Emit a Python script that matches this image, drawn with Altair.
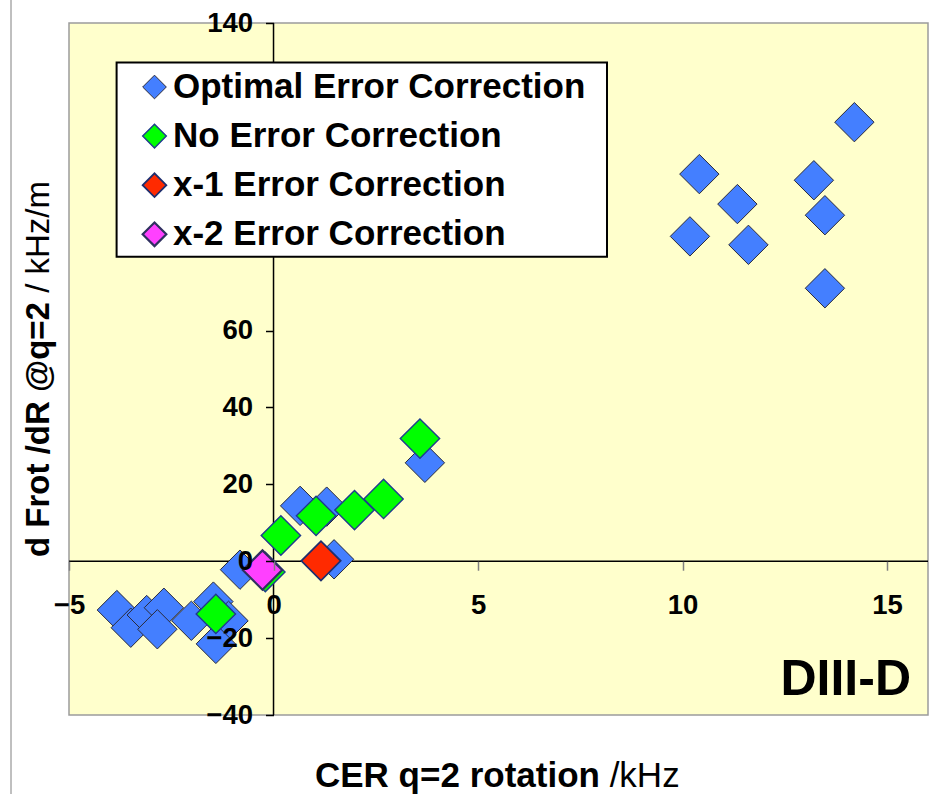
import altair as alt
import pandas as pd

# ---- data -------------------------------------------------------------
series_names = [
    "Optimal Error Correction",
    "No Error Correction",
    "x-1 Error Correction",
    "x-2 Error Correction",
]

# CER q=2 rotation (kHz) and d Frot/dR at q=2 (kHz/m)
optimal_x = [-3.83, -3.49, -3.10, -2.68, -2.84, -2.01, -1.47, -1.10, -1.41,
             -0.82, 0.65, 1.30, 1.48, 3.70,
             14.20, 10.41, 13.21, 11.34, 13.48, 10.18, 11.61, 13.48]
optimal_y = [-12.7, -17.3, -14.0, -12.1, -17.7, -15.5, -10.5, -15.5, -21.5,
             -2.2, 14.4, 14.2, 0.5, 25.6,
             114.2, 100.7, 99.1, 92.9, 90.0, 84.5, 82.3, 71.0]
no_corr_x = [-1.41, -0.20, 0.18, 1.04, 1.98, 2.69, 3.58]
no_corr_y = [-13.7, -2.8, 6.7, 11.8, 13.3, 16.2, 31.9]
x1_corr_x = [1.16]
x1_corr_y = [0.1]
x2_corr_x = [-0.27]
x2_corr_y = [-2.3]

x_ticks = [-5, 0, 5, 10, 15]
# ticks 80-120 sit under the legend box
y_ticks = [-40, -20, 0, 20, 40, 60, 140]

x_title_bold = "CER q=2 rotation"
x_title_unit = "/kHz"
y_title_bold = "d Frot /dR @q=2"
y_title_unit = "/ kHz/m"
machine_label = "DIII-D"

# ---- styling ----------------------------------------------------------
fill_colors = ["#447FFF", "#00FF00", "#FF2A00", "#FF40FF"]
stroke_colors = ["#2A2A3A", "#1E3C8C", "#1E2E6E", "#303060"]
stroke_widths = [1.0, 2.2, 2.0, 1.5]

FONT = "Liberation Sans"
W, H = 859, 692
XMIN, XMAX = -5, 16
YMIN, YMAX = -40, 140

# axes cross at zero: shift them into the plot area
x_axis_offset = -H * (0 - YMIN) / (YMAX - YMIN)
y_axis_offset = -W * (0 - XMIN) / (XMAX - XMIN)

rows = []
for name, xs, ys in zip(series_names,
                        [optimal_x, no_corr_x, x1_corr_x, x2_corr_x],
                        [optimal_y, no_corr_y, x1_corr_y, x2_corr_y]):
    for xv, yv in zip(xs, ys):
        rows.append({"series": name, "rot": xv, "dfdr": yv})
df = pd.DataFrame(rows)
df["idx"] = range(len(df))

x_scale = alt.Scale(domain=[XMIN, XMAX], nice=False, zero=False)
y_scale = alt.Scale(domain=[YMIN, YMAX], nice=False, zero=False)

# tick labels are drawn above the markers, axis lines below them
axis_common = dict(
    domain=False, grid=False, zindex=1,
    labelFont=FONT, labelFontSize=27.5, labelFontWeight="bold",
    labelColor="black", labelOverlap=False, labelFlush=False,
)

one = pd.DataFrame({"k": [0]})

# zero lines acting as the axis lines
x_zero_line = alt.Chart(one).mark_rule(color="black", strokeWidth=1.5).encode(
    x=alt.datum(XMIN, scale=x_scale), x2=alt.datum(XMAX), y=alt.datum(0)
)
y_zero_line = alt.Chart(one).mark_rule(color="black", strokeWidth=1.5).encode(
    x=alt.datum(0), y=alt.datum(YMIN, scale=y_scale), y2=alt.datum(YMAX)
)

points = alt.Chart(df).mark_point(
    shape="diamond", filled=True, size=1550, opacity=1
).encode(
    x=alt.X("rot:Q", title=None, scale=x_scale,
            axis=alt.Axis(values=x_ticks, offset=x_axis_offset, tickSize=9,
                          tickColor="#808080", tickWidth=1.5, labelPadding=21,
                          **axis_common)),
    y=alt.Y("dfdr:Q", title=None, scale=y_scale,
            axis=alt.Axis(values=y_ticks, offset=y_axis_offset, tickSize=8,
                          tickColor="black", tickWidth=1.5, labelPadding=13,
                          **axis_common)),
    fill=alt.Fill("series:N",
                  scale=alt.Scale(domain=series_names, range=fill_colors),
                  legend=alt.Legend(orient="none", legendX=68, legendY=46.5,
                                    title=None, padding=0,
                                    labelFont=FONT, labelFontSize=35,
                                    labelFontWeight="bold", labelColor="black",
                                    labelLimit=700, labelOffset=1,
                                    symbolType="diamond", symbolSize=560,
                                    symbolStrokeColor="#222222",
                                    symbolStrokeWidth=1, symbolOpacity=1,
                                    rowPadding=13.1)),
    stroke=alt.Stroke("series:N",
                      scale=alt.Scale(domain=series_names, range=stroke_colors),
                      legend=None),
    strokeWidth=alt.StrokeWidth("series:N",
                                scale=alt.Scale(domain=series_names,
                                                range=stroke_widths),
                                legend=None),
    order=alt.Order("idx:Q"),
)

# white legend frame
legend_box = alt.Chart(one).mark_rect(
    fill="white", stroke="black", strokeWidth=2
).encode(
    x=alt.value(47.6), x2=alt.value(538), y=alt.value(39.4), y2=alt.value(233.7)
)

# outer frame line on the left
frame_line = alt.Chart(one).mark_rule(color="#808080", strokeWidth=1).encode(
    x=alt.value(-58), y=alt.value(-23), y2=alt.value(771)
)


def label(text, x, y, size, weight="bold", align="left", angle=0):
    props = dict(align=align, baseline="alphabetic", font=FONT,
                 fontSize=size, fontWeight=weight, color="black")
    if angle:
        props["angle"] = angle
    return alt.Chart(one).mark_text(**props).encode(
        x=alt.value(x), y=alt.value(y), text=alt.value(text)
    )


XT = 35
x_title_a = label(x_title_bold, 246, 763.5, XT)
x_title_b = label(x_title_unit, 246 + (8.14 + 0.278) * XT, 763.5, XT,
                  weight="normal")
YT = 33
y_title_a = label(y_title_bold, -20.3, 534, YT, angle=270)
y_title_b = label(y_title_unit, -20.3, 534 - (7.726 + 0.278) * YT, YT,
                  weight="normal", angle=270)
machine = label(machine_label, 842, 672, 50, align="right")

chart = alt.layer(
    frame_line, x_zero_line, y_zero_line, points, legend_box,
    x_title_a, x_title_b, y_title_a, y_title_b, machine
).properties(
    width=W, height=H,
    autosize=alt.AutoSizeParams(type="none"),
    padding={"left": 69, "top": 23, "right": 2, "bottom": 79},
    background="white",
).configure_view(
    fill="#FFFFCC", stroke="#9C9C9C", strokeWidth=1.5
)

chart.save("out.html", embed_options={"renderer": "svg", "actions": False})
